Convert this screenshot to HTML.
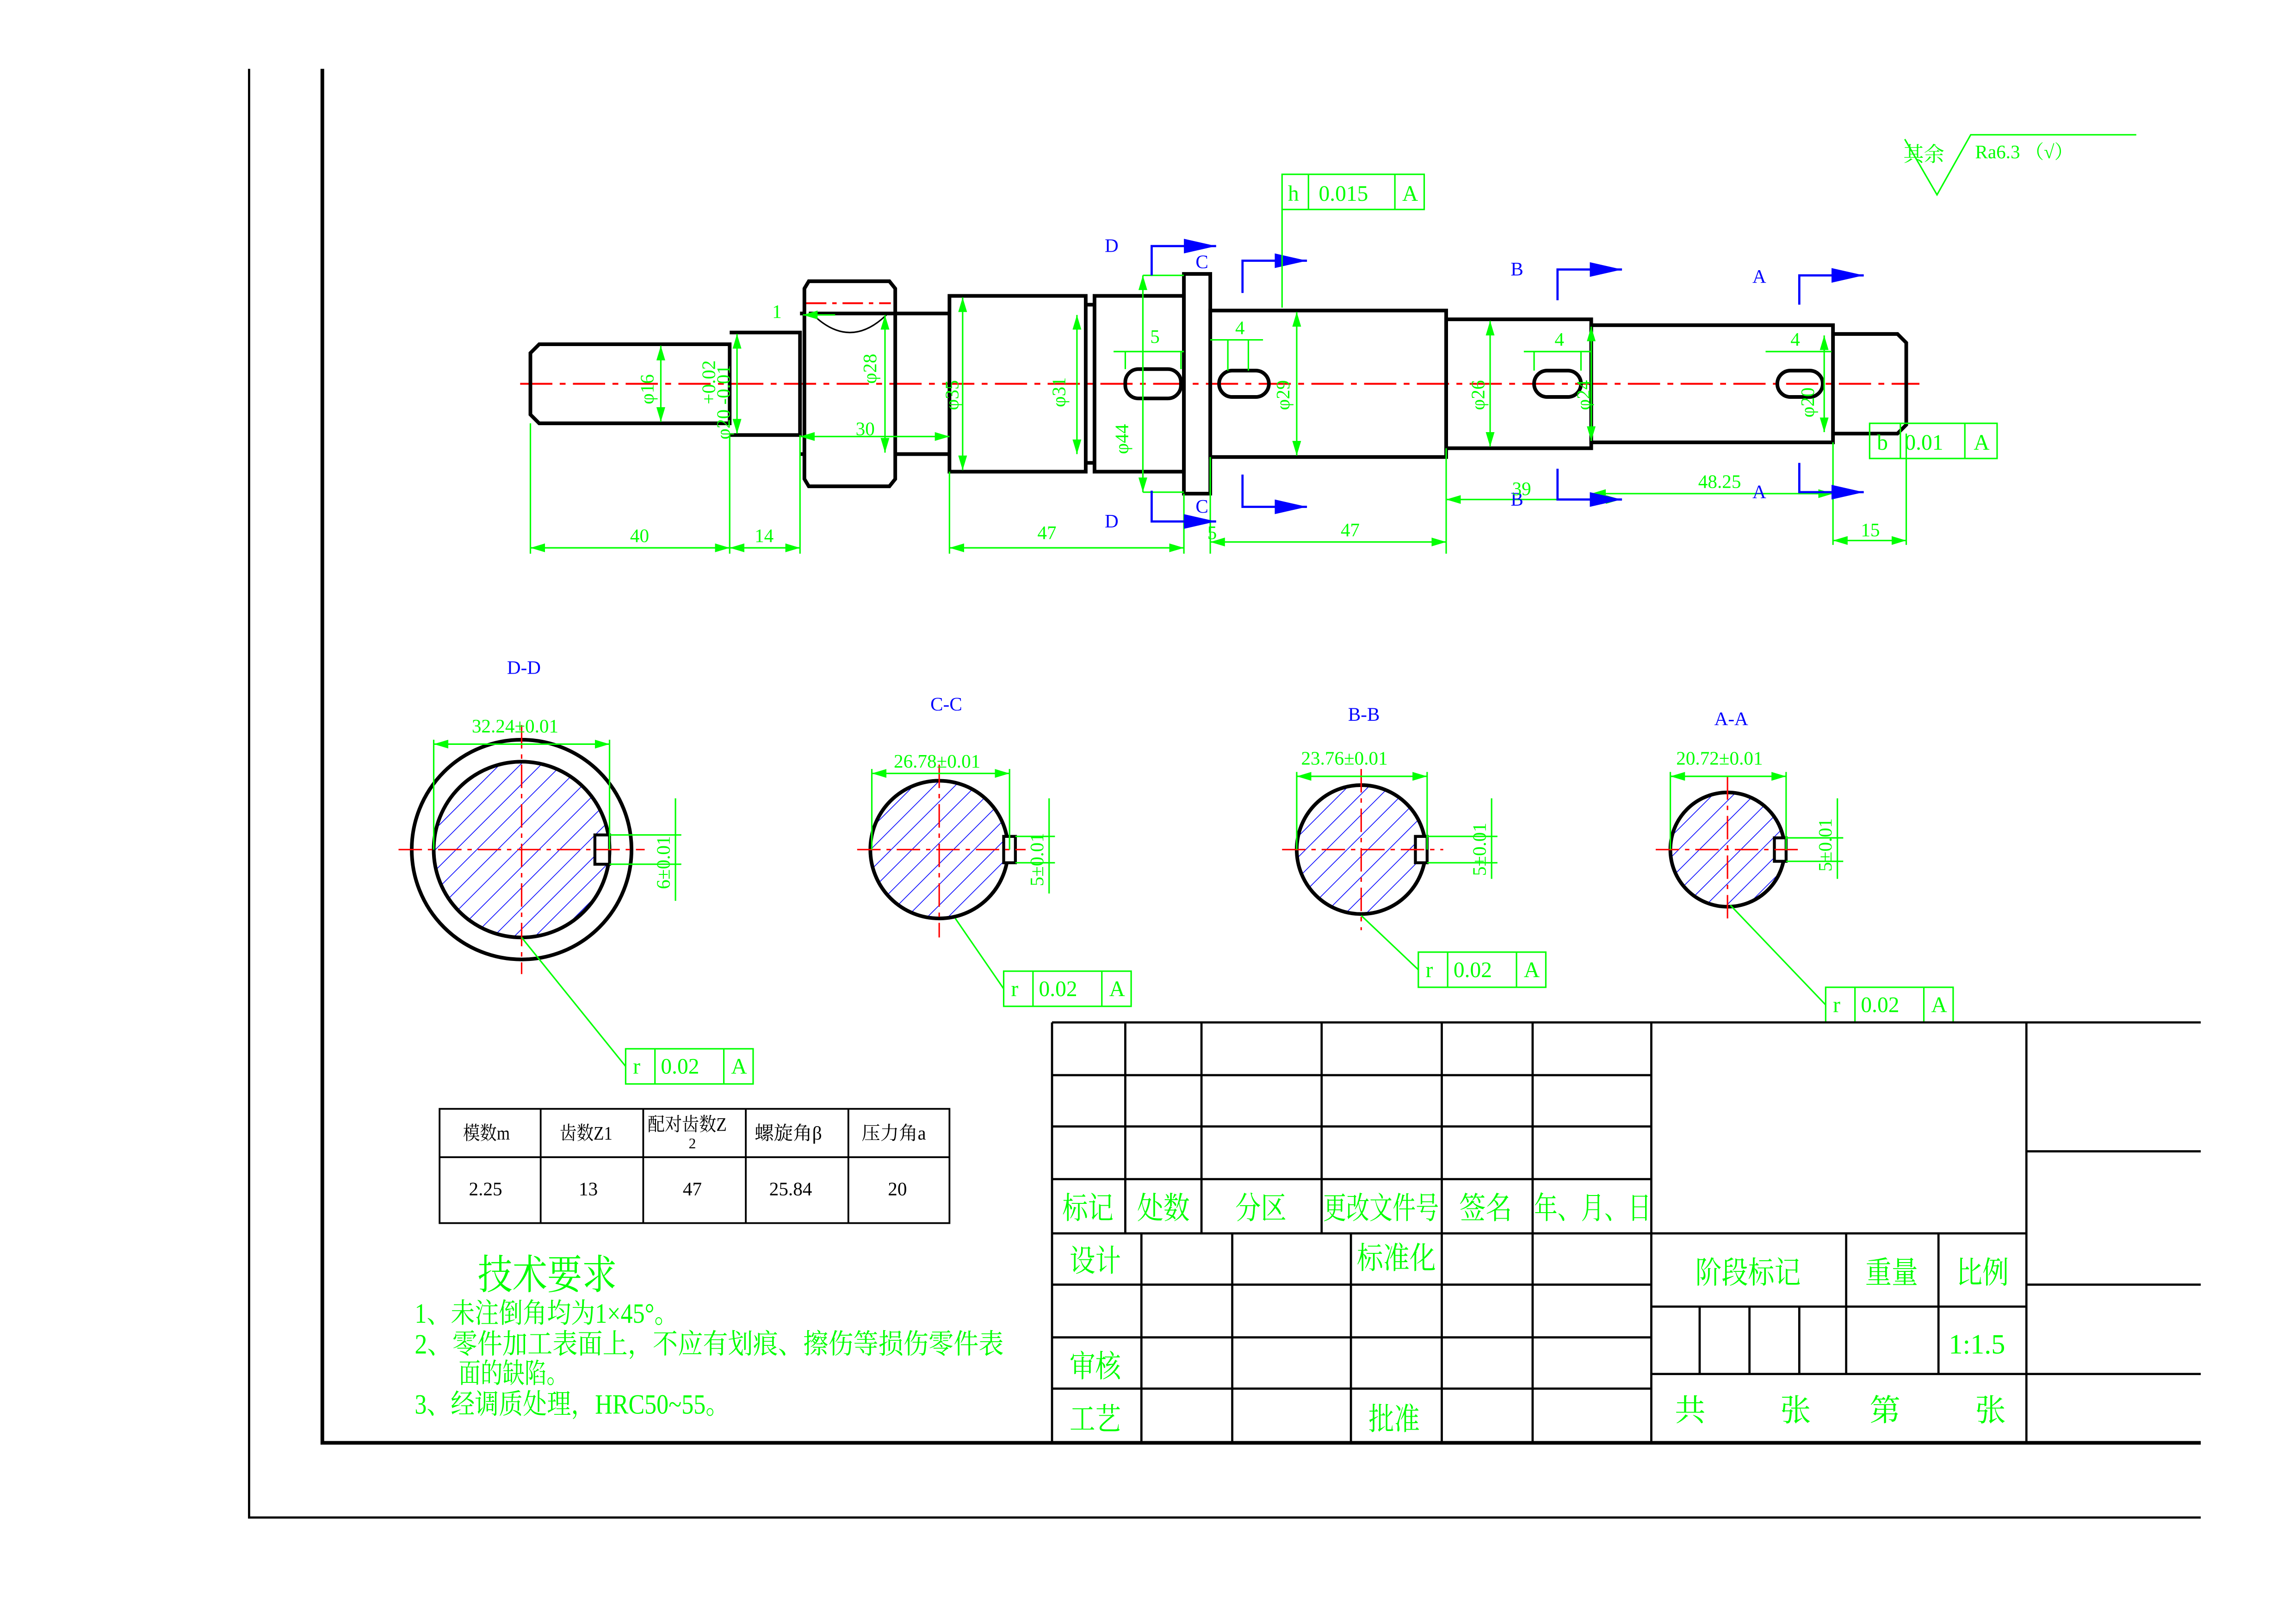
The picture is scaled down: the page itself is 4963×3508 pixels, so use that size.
<!DOCTYPE html>
<html><head><meta charset="utf-8"><style>
html,body{margin:0;padding:0;background:#fff}
svg{display:block}
text{font-family:"Liberation Serif","Noto Serif CJK SC","Noto Sans CJK SC",serif}
</style></head><body>
<svg width="4963" height="3508" viewBox="0 0 1567 1108" preserveAspectRatio="none" xmlns="http://www.w3.org/2000/svg">
<defs>
<pattern id="h" patternUnits="userSpaceOnUse" width="10" height="10" patternTransform="rotate(45)">
<line x1="0" y1="0" x2="0" y2="10" stroke="#0000ff" stroke-width="1"/></pattern>
<marker id="a" markerWidth="10" markerHeight="6" refX="10" refY="3" orient="auto-start-reverse" markerUnits="userSpaceOnUse"><path d="M0,0 L10,3 L0,6z" fill="#00ff00"/></marker>
<marker id="b" markerWidth="22" markerHeight="10" refX="22" refY="5" orient="auto" markerUnits="userSpaceOnUse"><path d="M0,0 L22,5 L0,10z" fill="#0000ff"/></marker>
</defs>
<rect width="1567" height="1108" fill="#fff"/>
<g stroke="#000" fill="none">
<path d="M170,47 V1036 H1502" stroke-width="1.5"/>
<path d="M220,47 V985 H1502" stroke-width="2.5"/>
</g>
<line x1="355" y1="262" x2="1310" y2="262" stroke="#ff0000" stroke-width="1.3" stroke-dasharray="22,5,4,5"/>
<line x1="550" y1="207" x2="608" y2="207" stroke="#ff0000" stroke-width="1.3" stroke-dasharray="14,4,3,4"/>
<g stroke="#000" stroke-width="2.5" fill="none">
<path d="M368,235 H498 V289 H368 L362,283 V241 Z"/>
<path d="M498,227 H546 V297 H498"/>
<path d="M549,197 L552,192 H607 L611,197 V327 L607,332 H552 L549,327 Z"/>
<line x1="546" y1="214" x2="549" y2="214"/><line x1="546" y1="310" x2="549" y2="310"/>
<line x1="552" y1="214" x2="611" y2="214"/>
<path d="M611,214 H648 M611,310 H648"/>
<rect x="648" y="202" width="93" height="120"/>
<path d="M741,208 H747 M741,316 H747"/>
<rect x="747" y="202" width="61" height="120"/>
<rect x="808" y="187" width="18" height="150"/>
<rect x="826" y="212" width="161" height="100"/>
<rect x="987" y="218" width="99" height="88"/>
<rect x="1086" y="222" width="165" height="80"/>
<path d="M1251,228 H1295 L1301,234 V290 L1295,296 H1251"/>
<rect x="768" y="252" width="38" height="20" rx="9"/>
<rect x="832" y="253" width="34" height="18" rx="9"/>
<rect x="1047" y="253" width="32" height="18" rx="9"/>
<rect x="1213" y="253" width="31" height="18" rx="9"/>
</g>
<path d="M554,214 Q580,240 606,214" stroke="#000" fill="none" stroke-width="1"/>
<g stroke="#00ff00" stroke-width="1" fill="none">
<path d="M362,289 V378 M498,297 V378 M546,297 V378 M648,322 V378 M808,337 V378 M826,312 V378 M987,306 V378 M1251,302 V372 M1301,296 V372"/>
<line x1="362" y1="374" x2="498" y2="374" marker-start="url(#a)" marker-end="url(#a)"/>
<line x1="498" y1="374" x2="546" y2="374" marker-start="url(#a)" marker-end="url(#a)"/>
<line x1="648" y1="374" x2="808" y2="374" marker-start="url(#a)" marker-end="url(#a)"/>
<line x1="826" y1="370" x2="987" y2="370" marker-start="url(#a)" marker-end="url(#a)"/>
<line x1="1251" y1="369" x2="1301" y2="369" marker-start="url(#a)" marker-end="url(#a)"/>
<line x1="987" y1="341" x2="1106" y2="341" marker-start="url(#a)" marker-end="url(#a)"/>
<line x1="1086" y1="337" x2="1251" y2="337" marker-start="url(#a)" marker-end="url(#a)"/>
<line x1="546" y1="298" x2="648" y2="298" marker-start="url(#a)" marker-end="url(#a)"/>
<line x1="451" y1="236" x2="451" y2="288" marker-start="url(#a)" marker-end="url(#a)"/>
<line x1="503" y1="228" x2="503" y2="296" marker-start="url(#a)" marker-end="url(#a)"/>
<line x1="604" y1="215" x2="604" y2="309" marker-start="url(#a)" marker-end="url(#a)"/>
<line x1="657" y1="203" x2="657" y2="321" marker-start="url(#a)" marker-end="url(#a)"/>
<line x1="735" y1="215" x2="735" y2="310" marker-start="url(#a)" marker-end="url(#a)"/>
<line x1="780" y1="188" x2="780" y2="336" marker-start="url(#a)" marker-end="url(#a)"/>
<line x1="885" y1="213" x2="885" y2="311" marker-start="url(#a)" marker-end="url(#a)"/>
<line x1="1017" y1="219" x2="1017" y2="305" marker-start="url(#a)" marker-end="url(#a)"/>
<line x1="1086" y1="223" x2="1086" y2="301" marker-start="url(#a)" marker-end="url(#a)"/>
<line x1="1245" y1="229" x2="1245" y2="295" marker-start="url(#a)" marker-end="url(#a)"/>
<path d="M780,188 H808 M780,336 H808"/>
<path d="M760,240 H808 M768,240 V252 M806,240 V252"/>
<path d="M826,232 H862 M838,232 V253 M852,232 V253"/>
<path d="M1040,240 H1086 M1047,240 V253 M1079,240 V253"/>
<path d="M1205,240 H1250"/>
<line x1="548" y1="215" x2="570" y2="215" marker-start="url(#a)"/>
</g>
<g stroke="#0000ff" stroke-width="1.5" fill="none">
<path d="M786,188 V168 H830" marker-end="url(#b)"/><path d="M786,335 V356 H830" marker-end="url(#b)"/>
<path d="M848,200 V178 H892" marker-end="url(#b)"/><path d="M848,324 V346 H892" marker-end="url(#b)"/>
<path d="M1063,205 V184 H1107" marker-end="url(#b)"/><path d="M1063,320 V341 H1107" marker-end="url(#b)"/>
<path d="M1228,208 V188 H1272" marker-end="url(#b)"/><path d="M1228,316 V336 H1272" marker-end="url(#b)"/>
</g>
<g fill="#0000ff" font-size="13">
<text x="754" y="172">D</text><text x="754" y="360">D</text>
<text x="816" y="183">C</text><text x="816" y="350">C</text>
<text x="1031" y="188">B</text><text x="1031" y="345">B</text>
<text x="1196" y="193">A</text><text x="1196" y="340">A</text>
<text x="346" y="460">D-D</text><text x="635" y="485">C-C</text>
<text x="920" y="492">B-B</text><text x="1170" y="495">A-A</text>
</g>
<g fill="#00ff00" font-size="13">
<text x="430" y="370">40</text><text x="515" y="370">14</text>
<text x="708" y="368">47</text><text x="915" y="366">47</text>
<text x="1159" y="333">48.25</text><text x="1270" y="366">15</text>
<text x="1032" y="338">39</text><text x="584" y="297">30</text>
<text x="785" y="234">5</text><text x="843" y="228">4</text><text x="1061" y="236">4</text><text x="1222" y="236">4</text>
<text x="527" y="217">1</text><text x="824" y="368">5</text>
<text transform="translate(446,276) rotate(-90)">φ16</text>
<text transform="translate(498,300) rotate(-90)">φ20 -0.01</text>
<text transform="translate(488,276) rotate(-90)">+0.02</text>
<text transform="translate(598,262) rotate(-90)">φ28</text>
<text transform="translate(654,280) rotate(-90)">φ35</text>
<text transform="translate(727,278) rotate(-90)">φ31</text>
<text transform="translate(770,310) rotate(-90)">φ44</text>
<text transform="translate(880,280) rotate(-90)">φ29</text>
<text transform="translate(1013,280) rotate(-90)">φ26</text>
<text transform="translate(1085,280) rotate(-90)">φ24</text>
<text transform="translate(1238,285) rotate(-90)">φ20</text>
</g>
<g stroke="#00ff00" fill="none" stroke-width="1">
<rect x="875" y="119" width="97" height="24"/><path d="M893,119 V143 M952,119 V143 M875,143 V210"/>
<rect x="1276" y="289" width="87" height="24"/><path d="M1297,289 V313 M1341,289 V313"/>
<path d="M1300,95 L1322,133 L1345,92 H1458"/>
</g>
<g fill="#00ff00" font-size="15">
<text x="879" y="137">h</text><text x="900" y="137">0.015</text><text x="957" y="137">A</text>
<text x="1281" y="307">b</text><text x="1300" y="307">0.01</text><text x="1347" y="307">A</text>
<text x="1299" y="110" font-size="14">其余</text><text x="1348" y="108" font-size="13">Ra6.3 （√）</text>
</g>
<g>
<circle cx="356" cy="580" r="75" fill="none" stroke="#000" stroke-width="2.5"/>
<circle cx="356" cy="580" r="60" fill="url(#h)" stroke="#000" stroke-width="2.5"/>
<rect x="406" y="570" width="10" height="20" fill="#fff" stroke="#000" stroke-width="2"/>
<circle cx="641" cy="580" r="47" fill="url(#h)" stroke="#000" stroke-width="2.5"/>
<rect x="685" y="571" width="8" height="18" fill="#fff" stroke="#000" stroke-width="2"/>
<circle cx="929" cy="580" r="44" fill="url(#h)" stroke="#000" stroke-width="2.5"/>
<rect x="966" y="571" width="8" height="18" fill="#fff" stroke="#000" stroke-width="2"/>
<circle cx="1179" cy="580" r="39" fill="url(#h)" stroke="#000" stroke-width="2.5"/>
<rect x="1211" y="572" width="8" height="16" fill="#fff" stroke="#000" stroke-width="2"/>
</g>
<g stroke="#ff0000" stroke-width="1" stroke-dasharray="16,4,3,4">
<path d="M272,580 H440 M356,495 V665"/><path d="M585,580 H700 M641,522 V640"/>
<path d="M875,580 H985 M929,525 V635"/><path d="M1130,580 H1230 M1179,530 V630"/>
</g>
<g stroke="#00ff00" fill="none" stroke-width="1">
<path d="M296,580 V505 M416,580 V505"/><line x1="296" y1="508" x2="416" y2="508" marker-start="url(#a)" marker-end="url(#a)"/>
<path d="M595,580 V525 M689,580 V525"/><line x1="595" y1="528" x2="689" y2="528" marker-start="url(#a)" marker-end="url(#a)"/>
<path d="M885,580 V527 M974,580 V527"/><line x1="885" y1="530" x2="974" y2="530" marker-start="url(#a)" marker-end="url(#a)"/>
<path d="M1140,580 V527 M1219,580 V527"/><line x1="1140" y1="530" x2="1219" y2="530" marker-start="url(#a)" marker-end="url(#a)"/>
<path d="M416,570 H465 M416,590 H465 M461,545 V615"/>
<path d="M693,571 H720 M693,589 H720 M716,545 V610"/>
<path d="M974,571 H1022 M974,589 H1022 M1018,545 V600"/>
<path d="M1219,572 H1258 M1219,588 H1258 M1254,545 V600"/>
<path d="M356,640 L427,728 M652,627 L685,675 M929,625 L968,662 M1181,618 L1246,686"/>
<rect x="427" y="716" width="87" height="24"/><path d="M447,716 V740 M494,716 V740"/>
<rect x="685" y="663" width="87" height="24"/><path d="M705,663 V687 M752,663 V687"/>
<rect x="968" y="650" width="87" height="24"/><path d="M988,650 V674 M1035,650 V674"/>
<rect x="1246" y="674" width="87" height="24"/><path d="M1266,674 V698 M1313,674 V698"/>
</g>
<g fill="#00ff00" font-size="13">
<text x="322" y="500">32.24±0.01</text><text x="610" y="524">26.78±0.01</text>
<text x="888" y="522">23.76±0.01</text><text x="1144" y="522">20.72±0.01</text>
<text transform="translate(457,607) rotate(-90)">6±0.01</text>
<text transform="translate(712,605) rotate(-90)">5±0.01</text>
<text transform="translate(1014,598) rotate(-90)">5±0.01</text>
<text transform="translate(1250,595) rotate(-90)">5±0.01</text>
</g>
<g fill="#00ff00" font-size="15">
<text x="432" y="733">r</text><text x="451" y="733">0.02</text><text x="499" y="733">A</text>
<text x="690" y="680">r</text><text x="709" y="680">0.02</text><text x="757" y="680">A</text>
<text x="973" y="667">r</text><text x="992" y="667">0.02</text><text x="1040" y="667">A</text>
<text x="1251" y="691">r</text><text x="1270" y="691">0.02</text><text x="1318" y="691">A</text>
</g>
<g stroke="#000" fill="none" stroke-width="1.2">
<rect x="300" y="757" width="348" height="78"/>
<path d="M300,790 H648 M369,757 V835 M439,757 V835 M509,757 V835 M579,757 V835"/>
</g>
<g fill="#000" font-size="13">
<text x="316" y="778" textLength="32" lengthAdjust="spacingAndGlyphs">模数m</text><text x="382" y="778" textLength="36" lengthAdjust="spacingAndGlyphs">齿数Z1</text><text x="442" y="772" textLength="54" lengthAdjust="spacingAndGlyphs">配对齿数Z</text><text x="470" y="784" font-size="10">2</text>
<text x="515" y="778" textLength="46" lengthAdjust="spacingAndGlyphs">螺旋角β</text><text x="588" y="778" textLength="44" lengthAdjust="spacingAndGlyphs">压力角a</text>
<text x="320" y="816">2.25</text><text x="395" y="816">13</text><text x="466" y="816">47</text><text x="525" y="816">25.84</text><text x="606" y="816">20</text>
</g>
<g fill="#00ff00">
<text x="326" y="880" font-size="28" textLength="95" lengthAdjust="spacingAndGlyphs">技术要求</text>
<text x="283" y="903" font-size="19" textLength="180" lengthAdjust="spacingAndGlyphs">1、未注倒角均为1×45°。</text>
<text x="283" y="924" font-size="19" textLength="402" lengthAdjust="spacingAndGlyphs">2、零件加工表面上，不应有划痕、擦伤等损伤零件表</text>
<text x="313" y="944" font-size="19" textLength="75" lengthAdjust="spacingAndGlyphs">面的缺陷。</text>
<text x="283" y="965" font-size="19" textLength="215" lengthAdjust="spacingAndGlyphs">3、经调质处理，HRC50~55。</text>
</g>
<g stroke="#000" fill="none" stroke-width="1.5">
<path d="M718,698 H1502 M718,698 V985 M1127,698 V985 M1383,698 V985"/>
<path d="M718,734 H1127 M718,769 H1127 M718,805 H1127 M718,842 H1127 M718,877 H1127 M718,913 H1127 M718,948 H1127"/>
<path d="M768,698 V842 M820,698 V842 M902,698 V842 M984,698 V842 M1046,698 V842"/>
<path d="M779,842 V985 M841,842 V985 M922,842 V985 M984,842 V985 M1046,842 V985"/>
<path d="M1127,842 H1383 M1127,892 H1383 M1127,938 H1383 M1260,842 V938 M1323,842 V938 M1160,892 V938 M1194,892 V938 M1228,892 V938"/>
<path d="M1383,786 H1502 M1383,877 H1502 M1383,938 H1502"/>
</g>
<g fill="#00ff00" font-size="21">
<text x="725" y="832" textLength="35" lengthAdjust="spacingAndGlyphs">标记</text><text x="776" y="832" textLength="36" lengthAdjust="spacingAndGlyphs">处数</text><text x="843" y="832" textLength="35" lengthAdjust="spacingAndGlyphs">分区</text><text x="903" y="832" textLength="79" lengthAdjust="spacingAndGlyphs">更改文件号</text>
<text x="996" y="832" textLength="36" lengthAdjust="spacingAndGlyphs">签名</text><text x="1047" y="832" textLength="80" lengthAdjust="spacingAndGlyphs">年、月、日</text>
<text x="730" y="868" textLength="35" lengthAdjust="spacingAndGlyphs">设计</text><text x="926" y="866" textLength="54" lengthAdjust="spacingAndGlyphs">标准化</text>
<text x="730" y="940" textLength="35" lengthAdjust="spacingAndGlyphs">审核</text><text x="730" y="976" textLength="35" lengthAdjust="spacingAndGlyphs">工艺</text><text x="934" y="976" textLength="35" lengthAdjust="spacingAndGlyphs">批准</text>
<text x="1157" y="876" textLength="72" lengthAdjust="spacingAndGlyphs">阶段标记</text><text x="1273" y="876" textLength="36" lengthAdjust="spacingAndGlyphs">重量</text><text x="1335" y="876" textLength="36" lengthAdjust="spacingAndGlyphs">比例</text>
<text x="1330" y="924" font-size="19">1:1.5</text>
<text x="1143" y="970">共</text><text x="1215" y="970">张</text><text x="1276" y="970">第</text><text x="1348" y="970">张</text>
</g>
</svg>
</body></html>
